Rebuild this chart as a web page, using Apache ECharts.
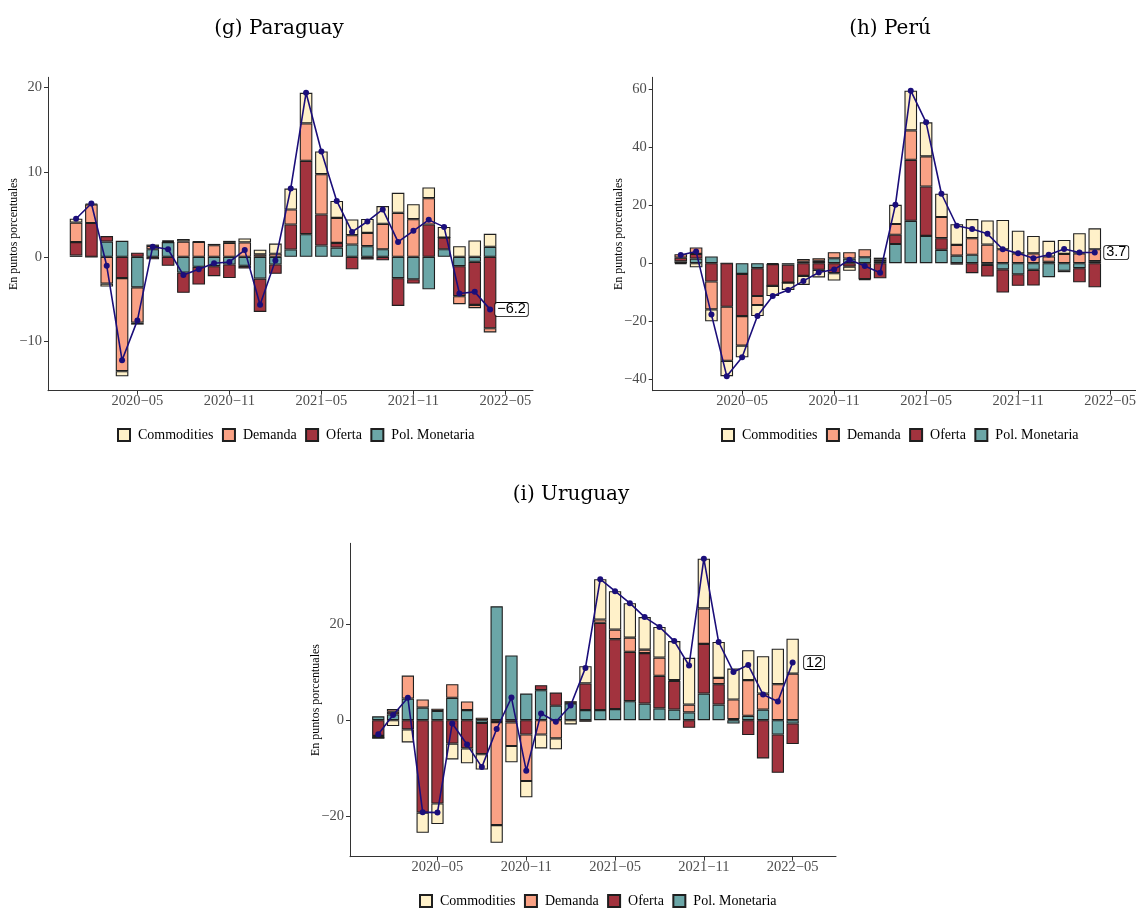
<!DOCTYPE html>
<html>
<head>
<meta charset="utf-8">
<script src="https://cdn.jsdelivr.net/npm/echarts@6/dist/echarts.min.js"></script>
<style>
  html, body { margin: 0; padding: 0; background: #ffffff; }
  #chart { width: 1136px; height: 909px; }
</style>
</head>
<body>
<div id="chart"></div>
<script>
// Months shown on the horizontal axis
const monthsPyPe = ['2020-01','2020-02','2020-03','2020-04','2020-05','2020-06','2020-07','2020-08','2020-09','2020-10','2020-11','2020-12',
  '2021-01','2021-02','2021-03','2021-04','2021-05','2021-06','2021-07','2021-08','2021-09','2021-10','2021-11','2021-12',
  '2022-01','2022-02','2022-03','2022-04'];
const monthsUy = monthsPyPe.concat(['2022-05']);
const tickMonths = ['2020-05', '2020-11', '2021-05', '2021-11', '2022-05'];

const componentNames = ['Commodities', 'Demanda', 'Oferta', 'Pol. Monetaria'];

// (g) Paraguay — contributions in percentage points
const pyCommodities = [0.45, 0.1, -0.35, -0.6, -0.25, 0.15, 0.1, 0.3, 0.05, 0.15, 0.24, 0.47, 0.55, 1.2, 2.47, 3.62, 2.68, 2.0, 1.85, 1.65, 2.1, 2.36, 1.77, 1.26, 1.26, 1.26, 1.93, 1.54];
const pyDemanda = [2.3, 2.2, -3.15, -11.0, -4.15, 0.4, 0.1, 1.8, 1.77, 1.38, 1.65, 1.7, 0.3, 0.37, 1.77, 4.41, 4.76, 2.95, 1.1, 1.57, 3.0, 5.2, 4.45, 3.11, 0, -0.94, -0.39, -0.49];
const pyOferta = [1.6, 4.0, 0.65, -2.5, 0.5, -0.28, -1.05, -2.4, -2.09, -1.18, -1.6, -0.3, -3.94, -1.1, 2.95, 8.66, 3.66, 0.55, -1.46, -0.3, -0.4, -3.27, -0.51, 3.82, 1.38, -3.54, -5.08, -8.43];
const pyPolMonetaria = [0.15, 0, 1.8, 1.9, -3.6, 0.9, 1.75, -1.85, -1.18, -1.1, -0.9, -1.06, -2.56, -0.9, 0.87, 2.68, 1.34, 1.1, 1.46, 1.26, 0.9, -2.52, -2.64, -3.82, 0.9, -1.1, -0.59, 1.18];
const pyTotal = [4.5, 6.3, -1.05, -12.2, -7.5, 1.2, 0.9, -2.15, -1.45, -0.75, -0.6, 0.8, -5.65, -0.43, 8.06, 19.37, 12.44, 6.6, 2.95, 4.18, 5.6, 1.77, 3.07, 4.37, 3.54, -4.32, -4.13, -6.2];

// (h) Perú
const peCommodities = [-0.3, -1.4, -4.1, -5.3, -4.0, -3.8, -3.5, -2.5, -3.1, -2.6, -2.55, -1.4, -0.3, 0.6, 6.6, 13.7, 11.7, 8.0, 7.1, 6.6, 8.3, 10.1, 7.8, 6.0, 5.4, 4.8, 6.9, 7.2];
const peDemanda = [1.2, 2.2, -9.6, -18.6, -10.2, -3.1, 0, 0, 0.9, 0.9, 2.1, 2.2, 2.75, 0.6, 3.7, 10.1, 10.4, 7.3, 3.7, 5.7, 6.4, 4.8, 3.4, 3.4, 1.8, 3.2, 3.4, 4.1];
const peOferta = [1.3, 1.6, -6.3, -15.0, -14.5, -9.6, -7.5, -6.2, -4.4, -2.3, -3.45, -1.2, -5.5, -5.2, 3.2, 21.0, 17.0, 4.0, -0.5, -3.45, -4.0, -8.0, -4.0, -5.4, 0.5, -0.5, -4.9, -8.3];
const pePolMonetaria = [0.6, 1.6, 2.3, 0, -3.7, -1.7, -0.3, -0.5, 0.5, 0.8, 1.7, 1.6, 2.05, 0.7, 6.6, 14.6, 9.4, 4.6, 2.6, 2.9, -0.6, -2.1, -3.8, -2.3, -4.8, -2.6, -1.7, 0.7];
const peTotal = [2.8, 4.0, -17.7, -38.9, -32.4, -18.2, -11.3, -9.2, -6.1, -3.2, -2.2, 1.2, -1.0, -3.3, 20.1, 59.4, 48.5, 23.9, 12.9, 11.75, 10.1, 4.8, 3.4, 1.7, 2.9, 4.9, 3.7, 3.7];

// (i) Uruguay
const uyCommodities = [0, -1.25, -2.7, -4.2, -4.3, -3.3, -3.1, -3.2, -3.7, -3.4, -3.4, -2.9, -2.3, -0.9, 3.6, 8.4, 8.0, 7.2, 6.8, 6.4, 8.15, 9.75, 10.4, 7.5, 6.45, 6.25, 7.8, 7.4, 7.3];
const uyDemanda = [-0.45, 0.55, 4.8, 1.7, 0.5, 2.85, 1.8, 0.5, -21.5, -4.9, -9.7, -3.0, -3.8, 0.35, -0.35, 0.7, 2.0, 2.95, 0.7, 3.8, 0.15, 1.65, 7.4, 1.3, 4.1, 7.45, 3.35, 7.5, 9.7];
const uyOferta = [-3.3, 0.55, -1.95, -19.3, -17.4, -4.9, -5.9, -6.5, -0.4, -0.5, -3.0, 1.05, 2.75, 0.1, 5.55, 18.2, 14.6, 10.3, 10.55, 6.8, 6.0, -1.6, 10.35, 4.25, 0.2, -3.1, -8.0, -8.0, -4.3];
const uyPolMonetaria = [0.8, 1.2, 4.5, 2.6, 1.9, 4.65, 2.1, -0.6, 23.75, 13.5, 5.55, 6.25, 3.0, 3.5, 2.1, 2.1, 2.3, 3.95, 3.45, 2.45, 2.2, 1.6, 5.55, 3.25, -0.7, 0.9, 2.2, -3.0, -0.7];
const uyTotal = [-2.95, 1.05, 4.65, -19.2, -19.3, -0.7, -5.1, -9.8, -1.85, 4.7, -10.55, 1.4, -0.35, 3.05, 10.9, 29.4, 26.9, 24.4, 21.5, 19.45, 16.5, 11.4, 33.7, 16.3, 10.05, 11.5, 5.35, 3.9, 12];

const pyTicks = [-10, 0, 10, 20];
const peTicks = [-40, -20, 0, 20, 40, 60];
const uyTicks = [-20, 0, 20];

// ---------------------------------------------------------------------------
// months are placed on a numeric axis: 0 = 2020-01, 1 = 2020-02, ...
const monthIndex = m => { const [y, mo] = m.split('-').map(Number); return (y - 2020) * 12 + (mo - 1); };
const minus = s => String(s).replace('-', '\u2212');
const tickIdx = tickMonths.map(monthIndex);
const tickLabel = {};
tickMonths.forEach(m => { tickLabel[monthIndex(m)] = minus(m); });
const fmtValue = v => { const r = Math.round(v * 10) / 10; return minus(Number.isInteger(r) ? String(r) : r.toFixed(1)); };

const colors = {
  'Commodities': '#FFF1C9',
  'Demanda': '#FAA285',
  'Oferta': '#A2333E',
  'Pol. Monetaria': '#6BA6A7'
};
const lineColor = '#1B0E7A';
const serif = 'Liberation Serif';
const tickGrey = '#4D4D4D';

const panels = [
  { title: '(g) Paraguay', titleX: 279, titleY: 19, months: monthsPyPe,
    grid: { left: 48, top: 77.3, width: 485, height: 313.4 },
    xMin: -1.83, xMax: 29.8,
    yMin: -15.8, yMax: 21.2, yTicks: pyTicks, barWidth: 12.6,
    legendLeft: 117, legendTop: 428,
    data: { 'Commodities': pyCommodities, 'Demanda': pyDemanda, 'Oferta': pyOferta, 'Pol. Monetaria': pyPolMonetaria },
    total: pyTotal },
  { title: '(h) Perú', titleX: 890, titleY: 19, months: monthsPyPe,
    grid: { left: 652.7, top: 77.3, width: 485, height: 313.4 },
    xMin: -1.83, xMax: 29.8,
    yMin: -43.9, yMax: 64, yTicks: peTicks, barWidth: 12.6,
    legendLeft: 721, legendTop: 428,
    data: { 'Commodities': peCommodities, 'Demanda': peDemanda, 'Oferta': peOferta, 'Pol. Monetaria': pePolMonetaria },
    total: peTotal },
  { title: '(i) Uruguay', titleX: 571, titleY: 485, months: monthsUy,
    grid: { left: 350, top: 543.3, width: 486, height: 313.4 },
    xMin: -1.91, xMax: 30.93,
    yMin: -28.5, yMax: 36.9, yTicks: uyTicks, barWidth: 12.3,
    legendLeft: 419, legendTop: 894,
    data: { 'Commodities': uyCommodities, 'Demanda': uyDemanda, 'Oferta': uyOferta, 'Pol. Monetaria': uyPolMonetaria },
    total: uyTotal }
];

// stacking order from zero outward
const stackOrder = ['Pol. Monetaria', 'Oferta', 'Demanda', 'Commodities'];

const option = {
  animation: false,
  backgroundColor: '#ffffff',
  title: [], grid: [], xAxis: [], yAxis: [], legend: [], series: []
};

panels.forEach((p, k) => {
  option.title.push({
    text: p.title, left: p.titleX, top: p.titleY, textAlign: 'center', padding: 0,
    textStyle: { fontFamily: 'DejaVu Serif', fontWeight: 'normal', fontSize: 20, color: '#000' }
  });
  option.grid.push(Object.assign({ outerBoundsMode: 'none', containLabel: false }, p.grid));
  option.xAxis.push({
    type: 'value', gridIndex: k, min: p.xMin, max: p.xMax,
    splitLine: { show: false },
    axisLine: { show: true, onZero: false, lineStyle: { color: '#333', width: 1 } },
    axisTick: { show: true, length: 4, lineStyle: { color: '#333' }, customValues: tickIdx },
    axisLabel: {
      customValues: tickIdx, margin: 3, color: tickGrey, fontFamily: serif, fontSize: 14.5,
      formatter: v => tickLabel[v] || ''
    }
  });
  option.yAxis.push({
    type: 'value', gridIndex: k, min: p.yMin, max: p.yMax,
    name: 'En puntos porcentuales', nameLocation: 'middle', nameGap: 28, nameMoveOverlap: false,
    nameTextStyle: { fontFamily: serif, fontSize: 12, color: '#000' },
    splitLine: { show: false },
    axisLine: { show: true, onZero: false, lineStyle: { color: '#333', width: 1 } },
    axisTick: { show: true, length: 4, lineStyle: { color: '#333' }, customValues: p.yTicks },
    axisLabel: {
      customValues: p.yTicks, margin: 6, color: tickGrey, fontFamily: serif, fontSize: 14.5,
      formatter: v => minus(v)
    }
  });
  option.legend.push({
    data: componentNames, left: p.legendLeft, top: p.legendTop, padding: 0,
    orient: 'horizontal', icon: 'rect', itemWidth: 12, itemHeight: 12, itemGap: 8.5,
    selectedMode: false,
    textStyle: { fontFamily: serif, fontSize: 14, color: '#000', padding: [0, 0, 0, 3] }
  });

  const xs = p.months.map(monthIndex);
  stackOrder.forEach(name => {
    option.series.push({
      name: name, type: 'bar', xAxisIndex: k, yAxisIndex: k,
      stack: 'total' + k, barWidth: p.barWidth,
      // value first so the stack runs along the vertical axis
      encode: { x: 1, y: 0 },
      itemStyle: { color: colors[name], borderColor: '#1f1f1f', borderWidth: 1.1 },
      data: p.data[name].map((v, i) => [v, xs[i]])
    });
  });

  const last = p.total.length - 1;
  option.series.push({
    name: 'Total', type: 'line', xAxisIndex: k, yAxisIndex: k, z: 5,
    symbol: 'circle', symbolSize: 6,
    itemStyle: { color: lineColor },
    lineStyle: { color: lineColor, width: 1.6 },
    data: p.total.map((v, i) => i === last ? {
      value: [xs[i], v],
      label: {
        show: true, position: 'right', distance: 18.5, align: 'center', verticalAlign: 'middle',
        formatter: d => fmtValue(d.value[1]),
        fontFamily: 'Liberation Sans', fontSize: 14.5, lineHeight: 12, color: '#000',
        backgroundColor: '#fff', borderColor: '#000', borderWidth: 0.8, borderRadius: 2,
        padding: [1, 2, 0, 2]
      }
    } : [xs[i], v])
  });
});

const chart = echarts.init(document.getElementById('chart'), null, { renderer: 'canvas' });
chart.setOption(option);
</script>
</body>
</html>
